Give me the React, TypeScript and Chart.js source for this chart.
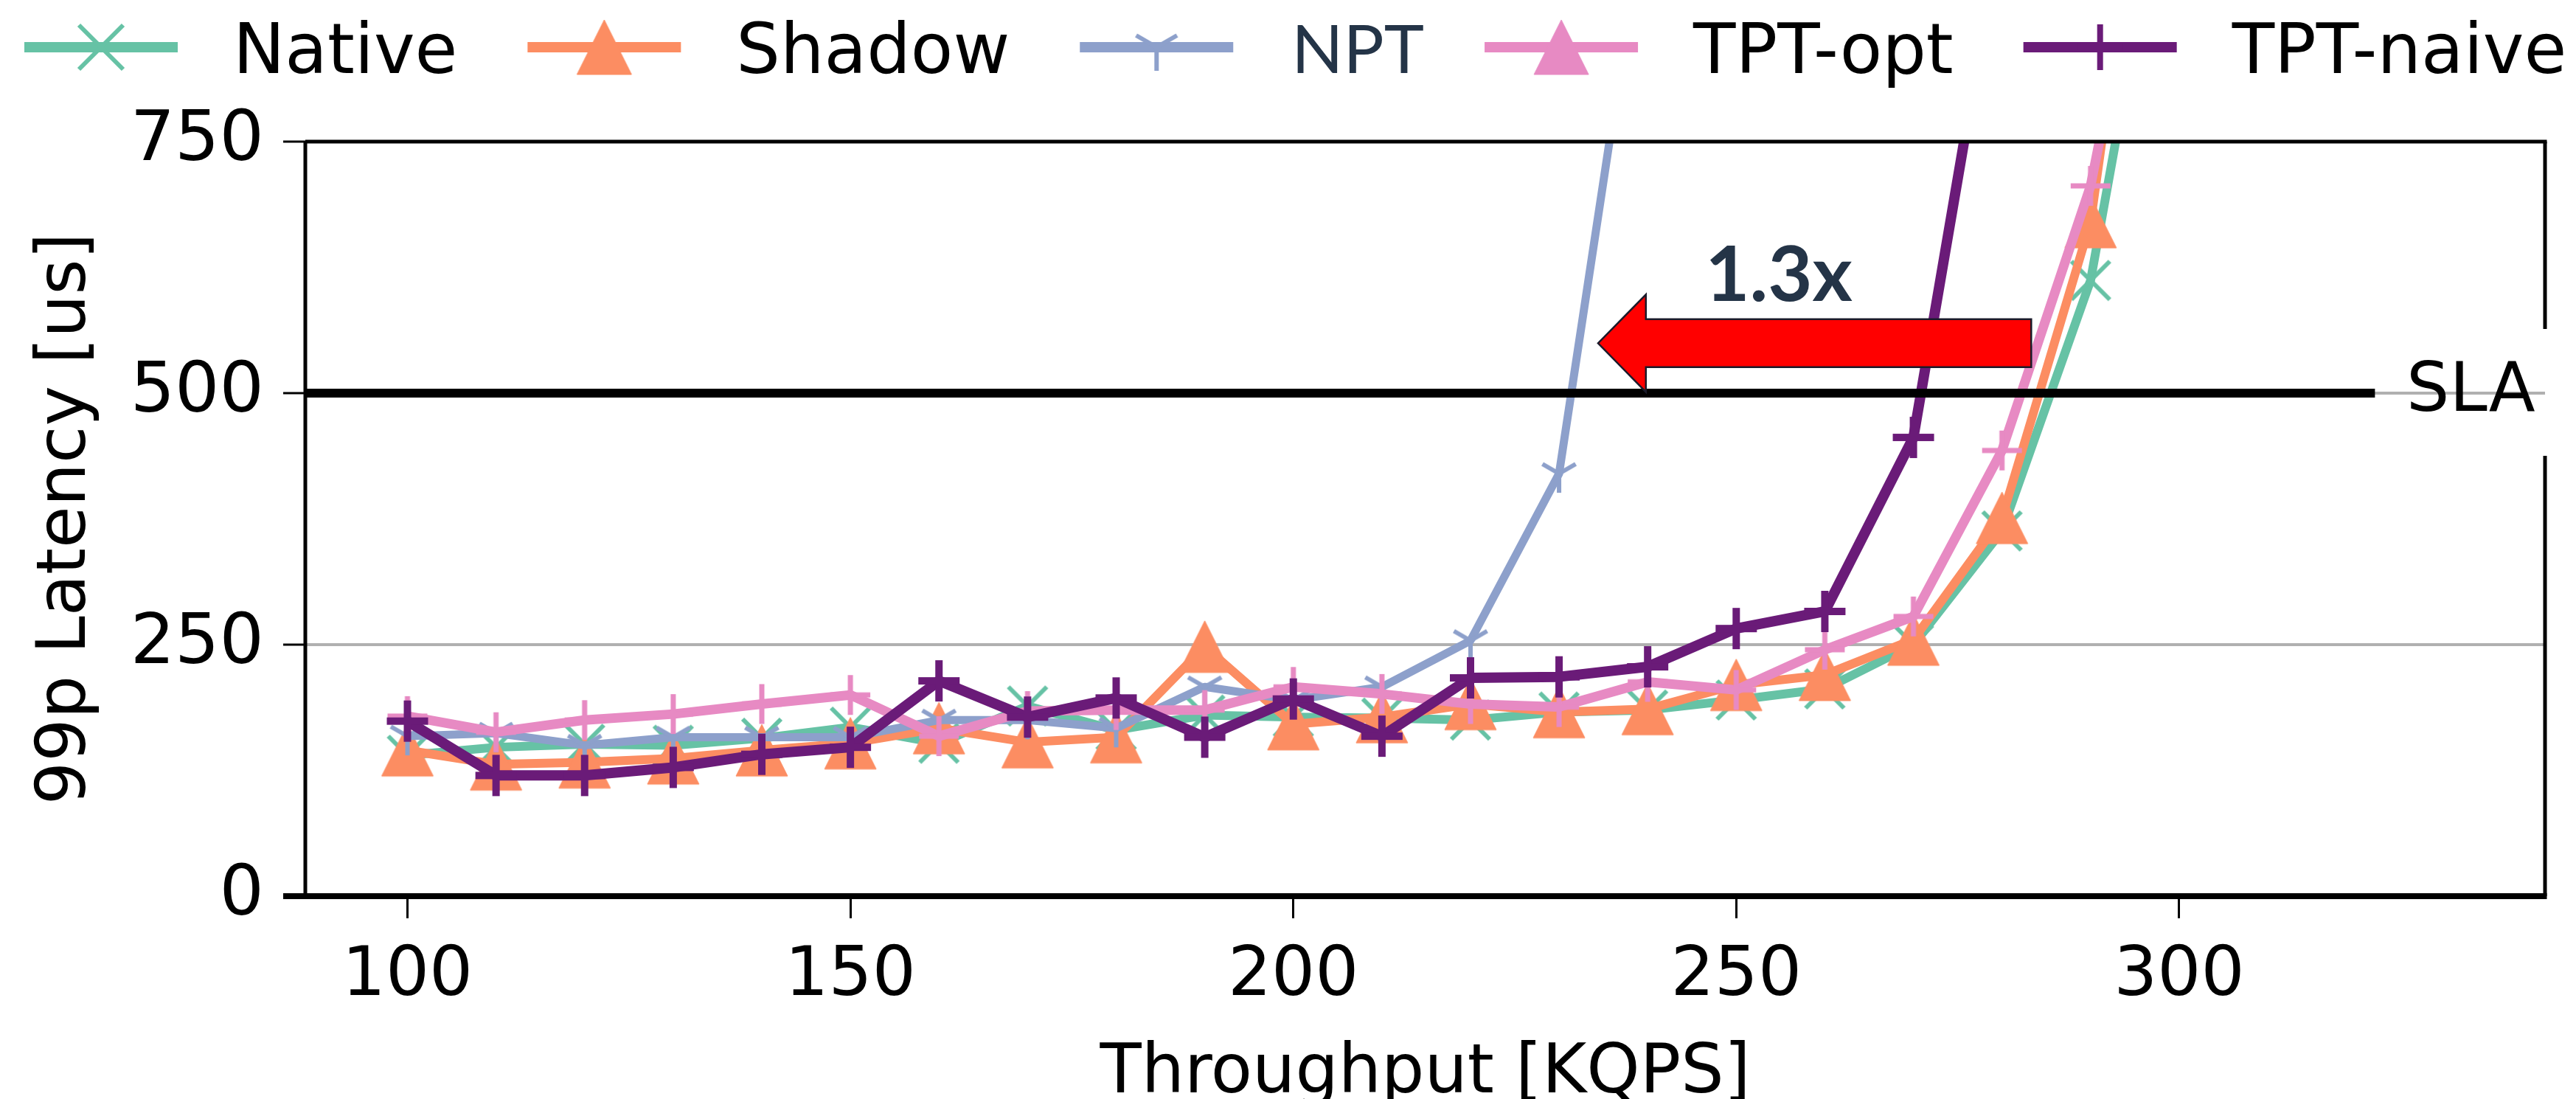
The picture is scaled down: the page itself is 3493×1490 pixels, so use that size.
import React, { useEffect, useRef } from 'react';
import { Chart, registerables } from 'chart.js';

Chart.register(...registerables);

// ---------------- data ----------------
const throughput = [100, 110, 120, 130, 140, 150, 160, 170, 180, 190, 200, 210, 220, 230, 240, 250, 260, 270, 280, 290, 300];
const nativeLat = [140, 148, 151, 150, 157, 168, 152, 189, 165, 180, 178, 177, 175, 183, 185, 195, 206, 250, 363, 612, 1100];
const shadowLat = [145, 131, 133, 137, 145, 152, 167, 153, 158, 248, 171, 178, 191, 183, 186, 210, 220, 255, 376, 670, 1300];
const nptLat = [159, 162, 150, 158, 158, 158, 175, 175, 167, 208, 195, 208, 254, 420, 1000];
const tptOptLat = [179, 163, 175, 181, 191, 200, 159, 184, 185, 185, 208, 201, 191, 188, 213, 205, 245, 278, 443, 706, 1150];
const tptNaiveLat = [174, 120, 120, 128, 141, 148, 214, 178, 197, 158, 196, 159, 217, 218, 228, 266, 283, 456, 970];

const seriesNames = ['Native', 'Shadow', 'NPT', 'TPT-opt', 'TPT-naive'];
const seriesColors = ['#66c2a5', '#fc8d62', '#8da0cb', '#e78ac3', '#6a1b78'];
const xTickValues = [100, 150, 200, 250, 300];
const yTickValues = [0, 250, 500, 750];
const slaValue = 500;
const slaLabel = 'SLA';
const speedupLabel = '1.3x';
const xTitle = 'Throughput [KQPS]';
const yTitle = '99p Latency [us]';

const FONT = "'DejaVu Sans', sans-serif";
const ALT_FONT = "Lato, 'Open Sans', sans-serif";
const NAVY = '#243447';

const CANVAS_W = 3477;
const CANVAS_H = 1482;

type Kind = 'x' | 'tri' | 'tridown' | 'plus';

function markerCanvas(kind: Kind, color: string, size: number, lw: number): HTMLCanvasElement {
  const pad = Math.ceil(lw) + 3;
  const dim = Math.ceil(size * 2 + pad * 2);
  const c = document.createElement('canvas');
  c.width = dim;
  c.height = dim;
  const g = c.getContext('2d')!;
  const m = dim / 2;
  g.strokeStyle = color;
  g.fillStyle = color;
  g.lineWidth = lw;
  g.lineCap = 'butt';
  g.beginPath();
  if (kind === 'x') {
    g.moveTo(m - size, m - size);
    g.lineTo(m + size, m + size);
    g.moveTo(m - size, m + size);
    g.lineTo(m + size, m - size);
    g.stroke();
  } else if (kind === 'plus') {
    g.moveTo(m - size, m);
    g.lineTo(m + size, m);
    g.moveTo(m, m - size);
    g.lineTo(m, m + size);
    g.stroke();
  } else if (kind === 'tri') {
    g.moveTo(m, m - size);
    g.lineTo(m + size, m + size);
    g.lineTo(m - size, m + size);
    g.closePath();
    g.fill();
    g.lineJoin = 'miter';
    g.stroke();
  } else {
    g.moveTo(m, m);
    g.lineTo(m, m + size);
    g.moveTo(m, m);
    g.lineTo(m - size * 0.866, m - size * 0.5);
    g.moveTo(m, m);
    g.lineTo(m + size * 0.866, m - size * 0.5);
    g.stroke();
  }
  return c;
}

export default function App() {
  const ref = useRef<HTMLCanvasElement | null>(null);

  useEffect(() => {
    const canvas = ref.current;
    if (!canvas) return;

    const plotMarkers = [
      markerCanvas('x', seriesColors[0], 26, 6),
      markerCanvas('tri', seriesColors[1], 35, 1),
      markerCanvas('tridown', seriesColors[2], 26, 6),
      markerCanvas('plus', seriesColors[3], 27, 7),
      markerCanvas('plus', seriesColors[4], 28, 10),
    ];
    const legendMarkers = [
      markerCanvas('x', seriesColors[0], 30, 6),
      markerCanvas('tri', seriesColors[1], 37, 1),
      markerCanvas('tridown', seriesColors[2], 32, 6),
      markerCanvas('tri', seriesColors[3], 37, 1),
      markerCanvas('plus', seriesColors[4], 31, 8),
    ];

    const allSeries = [nativeLat, shadowLat, nptLat, tptOptLat, tptNaiveLat];
    const widths = [12, 12, 11, 13, 14];

    const datasets = allSeries.map((vals, i) => ({
      label: seriesNames[i],
      data: vals.map((v, j) => ({ x: throughput[j], y: v })),
      borderColor: seriesColors[i],
      backgroundColor: seriesColors[i],
      borderWidth: widths[i],
      borderJoinStyle: 'round' as const,
      pointStyle: plotMarkers[i] as any,
      pointRadius: 20,
      pointHoverRadius: 20,
      tension: 0,
      order: 5 - i,
      clip: 0 as any,
    }));

    const decor = {
      id: 'decor',
      afterDatasetsDraw(chart: any) {
        const { ctx, chartArea: a, scales } = chart;
        const x = scales.x;
        const y = scales.y;
        const ySla = y.getPixelForValue(slaValue);
        ctx.save();
        // SLA line
        ctx.strokeStyle = '#000';
        ctx.lineWidth = 12;
        ctx.lineCap = 'butt';
        ctx.beginPath();
        ctx.moveTo(a.left, ySla);
        ctx.lineTo(x.getPixelForValue(322.1), ySla);
        ctx.stroke();
        // red arrow
        const tipX = x.getPixelForValue(234.4);
        const headX = x.getPixelForValue(239.8);
        const tailX = x.getPixelForValue(283.3);
        const cy = y.getPixelForValue(549.6);
        ctx.beginPath();
        ctx.moveTo(tipX, cy);
        ctx.lineTo(headX, cy - 66);
        ctx.lineTo(headX, cy - 32.5);
        ctx.lineTo(tailX, cy - 32.5);
        ctx.lineTo(tailX, cy + 32.5);
        ctx.lineTo(headX, cy + 32.5);
        ctx.lineTo(headX, cy + 66);
        ctx.closePath();
        ctx.fillStyle = '#ff0000';
        ctx.fill();
        ctx.strokeStyle = '#1a1a2a';
        ctx.lineWidth = 2.5;
        ctx.lineJoin = 'miter';
        ctx.stroke();
        // 1.3x label
        ctx.fillStyle = NAVY;
        ctx.font = `bold 104px ${ALT_FONT}`;
        ctx.textAlign = 'left';
        ctx.textBaseline = 'alphabetic';
        ctx.fillText(speedupLabel, x.getPixelForValue(246.5), y.getPixelForValue(591.5));
        ctx.restore();
      },
      afterDraw(chart: any) {
        const { ctx, chartArea: a, scales } = chart;
        const y = scales.y;
        const ySla = y.getPixelForValue(slaValue);
        ctx.save();
        ctx.strokeStyle = '#000';
        ctx.lineCap = 'butt';
        // top spine
        ctx.lineWidth = 5;
        ctx.beginPath();
        ctx.moveTo(a.left, a.top);
        ctx.lineTo(a.right + 2.5, a.top);
        ctx.stroke();
        // left spine
        ctx.beginPath();
        ctx.moveTo(a.left, a.top);
        ctx.lineTo(a.left, a.bottom);
        ctx.stroke();
        // right spine with gap for SLA label
        ctx.beginPath();
        ctx.moveTo(a.right, a.top);
        ctx.lineTo(a.right, ySla - 87);
        ctx.moveTo(a.right, ySla + 85);
        ctx.lineTo(a.right, a.bottom);
        ctx.stroke();
        // bottom spine
        ctx.lineWidth = 8;
        ctx.beginPath();
        ctx.moveTo(a.left - 30, a.bottom);
        ctx.lineTo(a.right + 2.5, a.bottom);
        ctx.stroke();
        // SLA label
        ctx.fillStyle = '#000';
        ctx.font = `92px ${FONT}`;
        ctx.textAlign = 'left';
        ctx.textBaseline = 'middle';
        ctx.fillText(slaLabel, a.right - 188, ySla);

        // legend
        const lineY = 56;
        const baseY = 91;
        let lx = 25;
        for (let i = 0; i < seriesNames.length; i++) {
          ctx.strokeStyle = seriesColors[i];
          ctx.lineWidth = 14;
          ctx.beginPath();
          ctx.moveTo(lx, lineY);
          ctx.lineTo(lx + 208, lineY);
          ctx.stroke();
          const mk = legendMarkers[i];
          ctx.drawImage(mk, lx + 104 - mk.width / 2, lineY - mk.height / 2);
          const isNpt = seriesNames[i] === 'NPT';
          const tx = lx + 208 + (isNpt ? 79 : 75);
          ctx.font = isNpt ? `92px ${ALT_FONT}` : `94px ${FONT}`;
          ctx.fillStyle = isNpt ? NAVY : '#000';
          ctx.textAlign = 'left';
          ctx.textBaseline = 'alphabetic';
          ctx.fillText(seriesNames[i], tx, baseY);
          const w = ctx.measureText(seriesNames[i]).width;
          lx = tx + w + (isNpt ? 82 : 95);
        }
        ctx.restore();
      },
    };

    const chart = new Chart(canvas, {
      type: 'line',
      data: { datasets: datasets as any },
      options: {
        responsive: false,
        animation: false,
        devicePixelRatio: 1,
        events: [],
        layout: { padding: { top: 184, left: 0, right: 22, bottom: 0 } },
        plugins: {
          legend: { display: false },
          tooltip: { enabled: false },
        },
        scales: {
          x: {
            type: 'linear',
            min: 88.47,
            max: 341.3,
            afterBuildTicks: (scale: any) => {
              scale.ticks = xTickValues.map((v) => ({ value: v }));
            },
            afterFit: (scale: any) => {
              scale.height = CANVAS_H - 1207;
            },
            border: { display: false },
            grid: {
              drawOnChartArea: false,
              drawTicks: true,
              tickLength: 30,
              tickColor: '#000',
              tickWidth: 3,
            },
            ticks: {
              font: { family: FONT, size: 93 },
              color: '#000',
              padding: 24,
              maxRotation: 0,
              autoSkip: false,
            },
            title: {
              display: true,
              text: xTitle,
              color: '#000',
              font: { family: FONT, size: 92, lineHeight: 0.54 },
              padding: { top: 0, bottom: 8 },
            },
          },
          y: {
            type: 'linear',
            min: 0,
            max: 750,
            afterBuildTicks: (scale: any) => {
              scale.ticks = yTickValues.map((v) => ({ value: v }));
            },
            afterFit: (scale: any) => {
              scale.width = 406;
            },
            border: { display: false },
            grid: {
              color: '#b0b0b0',
              lineWidth: 4,
              drawTicks: true,
              tickLength: 30,
              tickColor: '#000',
              tickWidth: 3,
            },
            ticks: {
              font: { family: FONT, size: 95 },
              color: '#000',
              padding: 26,
              autoSkip: false,
            },
            title: {
              display: true,
              text: yTitle,
              color: '#000',
              font: { family: FONT, size: 92 },
              padding: { top: 28, bottom: 0 },
            },
          },
        },
      },
      plugins: [decor],
    });

    return () => chart.destroy();
  }, []);

  return (
    <div style={{ position: 'fixed', left: 8, top: 8, width: CANVAS_W, height: CANVAS_H }}>
      <canvas ref={ref} width={CANVAS_W} height={CANVAS_H} style={{ display: 'block', width: CANVAS_W, height: CANVAS_H }} />
    </div>
  );
}
